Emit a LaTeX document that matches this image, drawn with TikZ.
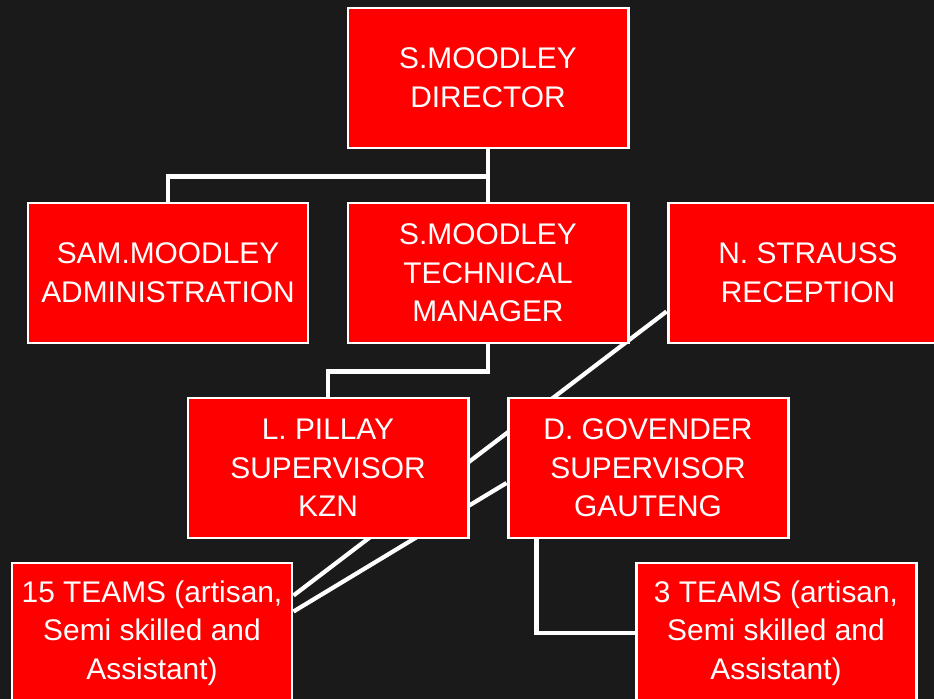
\documentclass[tikz,border=0pt]{standalone}
\usepackage{fontspec}
\setmainfont{Liberation Sans}
\usetikzlibrary{positioning, backgrounds}
\definecolor{bgdark}{HTML}{1A1A1A}
\definecolor{boxred}{HTML}{FF0000}
\tikzset{
	box/.style={draw=white, line width=1.7pt, fill=boxred, text=white, % red boxes with white frame
		minimum width=5.6cm, minimum height=2.8cm, inner sep=0pt,
		align=center, font=\fontsize{17}{22}\selectfont},
	link/.style={draw=white, line width=2.4pt}, % white connectors
	node distance=6.4cm, % horizontal spacing between boxes. Change if necessary.
}

\begin{document}
\begin{tikzpicture}
	\useasboundingbox (0,0) rectangle (18.68,-13.98);
	\node[box] (dir) at (9.76,-1.56) {S.MOODLEY\\DIRECTOR};
	\node[box] (tech) [below of=dir, node distance=3.9cm] {S.MOODLEY\\TECHNICAL\\MANAGER};
	\node[box] (admin) [left of=tech] {SAM.MOODLEY\\ADMINISTRATION};
	\node[box] (recep) [right of=tech] {N. STRAUSS\\RECEPTION};
	\node[box] (pillay) [below of=tech, node distance=3.9cm, xshift=-3.2cm] {L. PILLAY\\SUPERVISOR\\KZN};
	\node[box] (gov) [right of=pillay] {D. GOVENDER\\SUPERVISOR\\GAUTENG};
	\node[box] (teamsA) [below of=pillay, node distance=3.3cm, xshift=-3.52cm] {15 TEAMS (artisan,\\Semi skilled and\\Assistant)};
	\node[box] (teamsB) [below of=gov, node distance=3.3cm, xshift=2.56cm] {3 TEAMS (artisan,\\Semi skilled and\\Assistant)};

	\begin{pgfonlayer}{background}
		\fill[bgdark] (0,0) rectangle (18.68,-13.98);
		\draw[link] (dir.south) -- ++(0,-0.54) -| (admin.north);
		\draw[link] (dir) -- (tech);
		\draw[link] (tech.south) -- ++(0,-0.54) -| (pillay.north);
		\draw[link] ([xshift=0.6cm]gov.south west) |- (teamsB.west);
		\draw[link] ([yshift=0.66cm]recep.south west) -- ([yshift=-0.68cm]teamsA.north east);
		\draw[link] ([yshift=-0.3cm]gov.west) -- ([yshift=-1cm]teamsA.north east);
	\end{pgfonlayer}
\end{tikzpicture}
\end{document}
